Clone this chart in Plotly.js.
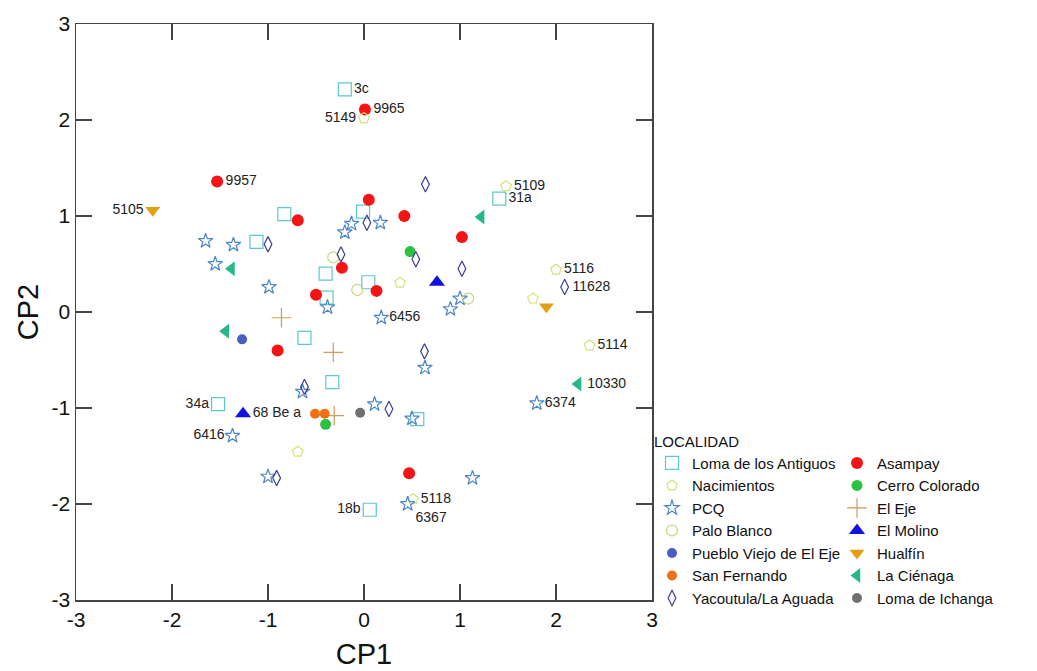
<!DOCTYPE html>
<html>
<head>
<meta charset="utf-8">
<script src="https://cdn.plot.ly/plotly-3.0.1.min.js"></script>
<style>html,body{margin:0;padding:0;background:#fff;}#chart{width:1037px;height:671px;}</style>
</head>
<body>
<div id="chart"></div>
<script>
// Data: [CP1, CP2, label]
const lomaAntiguos = [[-0.20,2.32,'3c'],[-0.83,1.02,''],[-0.01,1.045,''],[-1.12,0.73,''],[-0.40,0.40,''],[-0.39,0.15,''],[0.045,0.31,''],[1.41,1.18,'31a'],[-0.62,-0.27,''],[-0.33,-0.73,''],[-1.52,-0.96,'34a'],[0.555,-1.115,''],[0.06,-2.06,'18b']];
const nacimientos = [[0.0,2.02,'5149'],[1.48,1.31,'5109'],[2.0,0.44,'5116'],[2.35,-0.35,'5114'],[0.51,-1.95,'5118'],[-0.69,-1.455,''],[0.375,0.305,''],[1.76,0.14,'']];
const paloBlanco = [[-0.32,0.57,''],[-0.07,0.23,''],[1.085,0.14,'']];
const pcq = [[0.17,0.93,''],[-0.13,0.92,''],[-0.20,0.83,''],[-1.65,0.74,''],[-1.36,0.70,''],[-1.55,0.50,''],[-0.99,0.26,''],[-0.38,0.05,''],[0.18,-0.06,'6456'],[1.0,0.14,''],[0.90,0.03,''],[-0.64,-0.83,''],[0.11,-0.96,''],[-1.37,-1.29,'6416'],[-1.0,-1.715,''],[0.635,-0.58,''],[0.50,-1.11,''],[1.80,-0.95,'6374'],[1.13,-1.73,''],[0.455,-2.0,'6367']];
const puebloViejo = [[-1.27,-0.285,'']];
const sanFernando = [[-0.51,-1.06,''],[-0.41,-1.06,'']];
const yacoutula = [[0.64,1.33,''],[0.03,0.93,''],[-1.0,0.705,''],[-0.24,0.60,''],[0.54,0.55,''],[1.02,0.45,''],[2.09,0.26,'11628'],[-0.62,-0.78,''],[0.63,-0.41,''],[0.26,-1.01,''],[-0.91,-1.73,'']];
const asampay = [[0.01,2.11,'9965'],[-1.53,1.36,'9957'],[-0.69,0.955,''],[0.05,1.17,''],[0.42,1.00,''],[1.02,0.78,''],[-0.23,0.46,''],[-0.50,0.18,''],[0.13,0.22,''],[-0.90,-0.40,''],[0.47,-1.68,'']];
const cerroColorado = [[0.48,0.63,''],[-0.40,-1.17,'']];
const elEje = [[-0.86,-0.06,''],[-0.32,-0.42,''],[-0.31,-1.08,'']];
const elMolino = [[0.76,0.31,''],[-1.26,-1.06,'68 Be a']];
const hualfin = [[-2.20,1.06,'5105'],[1.90,0.055,'']];
const laCienaga = [[-1.38,0.45,''],[1.22,0.99,''],[-1.44,-0.20,''],[2.23,-0.75,'10330']];
const lomaIchanga = [[-0.04,-1.05,'']];

const axisTicks = [-3,-2,-1,0,1,2,3];

// label placement (style)
const leftLabels = ['5105','34a','6416','18b','5149'];
const bottomLabels = ['6367'];
function pos(l){ if(leftLabels.includes(l)) return 'middle left'; if(bottomLabels.includes(l)) return 'bottom right'; return 'middle right'; }

function tr(name, arr, symbol, color, size, open){
  const m = {symbol: symbol, size: size, color: color, line: {color: color, width: open ? 1.2 : 0}};
  return {
    type:'scatter', mode:'markers+text', name:name,
    x: arr.map(p=>p[0]), y: arr.map(p=>p[1]), text: arr.map(p=>p[2]),
    textposition: arr.map(p=>pos(p[2])),
    textfont:{family:'Liberation Sans, Arial, sans-serif', size:14, color:'#222'},
    marker: m, cliponaxis:false
  };
}

const traces = [
  tr('Loma de los Antiguos', lomaAntiguos, 'square-open', '#5cc8cc', 13, true),
  tr('Asampay', asampay, 'circle', '#f41414', 12, false),
  tr('Nacimientos', nacimientos, 'pentagon-open', '#d6e27c', 11, true),
  tr('Cerro Colorado', cerroColorado, 'circle', '#2ec040', 11, false),
  tr('PCQ', pcq, 'star-open', '#4a86c8', 11, true),
  tr('El Eje', elEje, 'cross-thin-open', '#d09a5a', 14, true),
  tr('Palo Blanco', paloBlanco, 'circle-open', '#c6d67e', 11, true),
  tr('El Molino', elMolino, 'triangle-up', '#1212e0', 14, false),
  tr('Pueblo Viejo de El Eje', puebloViejo, 'circle', '#4a5fc0', 10, false),
  tr('Hualfín', hualfin, 'triangle-down', '#e2a010', 13, false),
  tr('San Fernando', sanFernando, 'circle', '#f07018', 10, false),
  tr('La Ciénaga', laCienaga, 'triangle-left', '#28b888', 13, false),
  tr('Yacoutula/La Aguada', yacoutula, 'diamond-tall-open', '#3c3c96', 11, true),
  tr('Loma de Ichanga', lomaIchanga, 'circle', '#707070', 10, false)
];

const axisCommon = {
  range:[-3,3], tickvals: axisTicks, ticktext: axisTicks.map(String),
  ticks:'inside', ticklen:16, tickwidth:1.2, tickcolor:'#444',
  showline:true, linecolor:'#444', linewidth:1.5, mirror:'ticks',
  showgrid:false, zeroline:false,
  tickfont:{family:'Liberation Sans, Arial, sans-serif', size:21, color:'#111'}
};

const layout = {
  width:1037, height:671,
  margin:{l:76, r:385, t:24, b:71},
  paper_bgcolor:'#fff', plot_bgcolor:'#fff',
  font:{family:'Liberation Sans, Arial, sans-serif', color:'#111'},
  xaxis: Object.assign({}, axisCommon, {title:{text:'CP1', font:{size:29, color:'#111'}, standoff:14}}),
  yaxis: Object.assign({}, axisCommon, {title:{text:'CP2', font:{size:29, color:'#111'}, standoff:4}}),
  showlegend:true,
  legend:{
    orientation:'h', x:1.0, xanchor:'left', y:0.3, yanchor:'top',
    entrywidth:140, entrywidthmode:'pixels',
    title:{text:'LOCALIDAD', side:'top', font:{size:15, color:'#111'}},
    font:{size:15, color:'#111'}, itemwidth:30, tracegroupgap:0,
    bgcolor:'rgba(0,0,0,0)'
  }
};

Plotly.newPlot('chart', traces, layout, {displayModeBar:false, staticPlot:true});
</script>
</body>
</html>
